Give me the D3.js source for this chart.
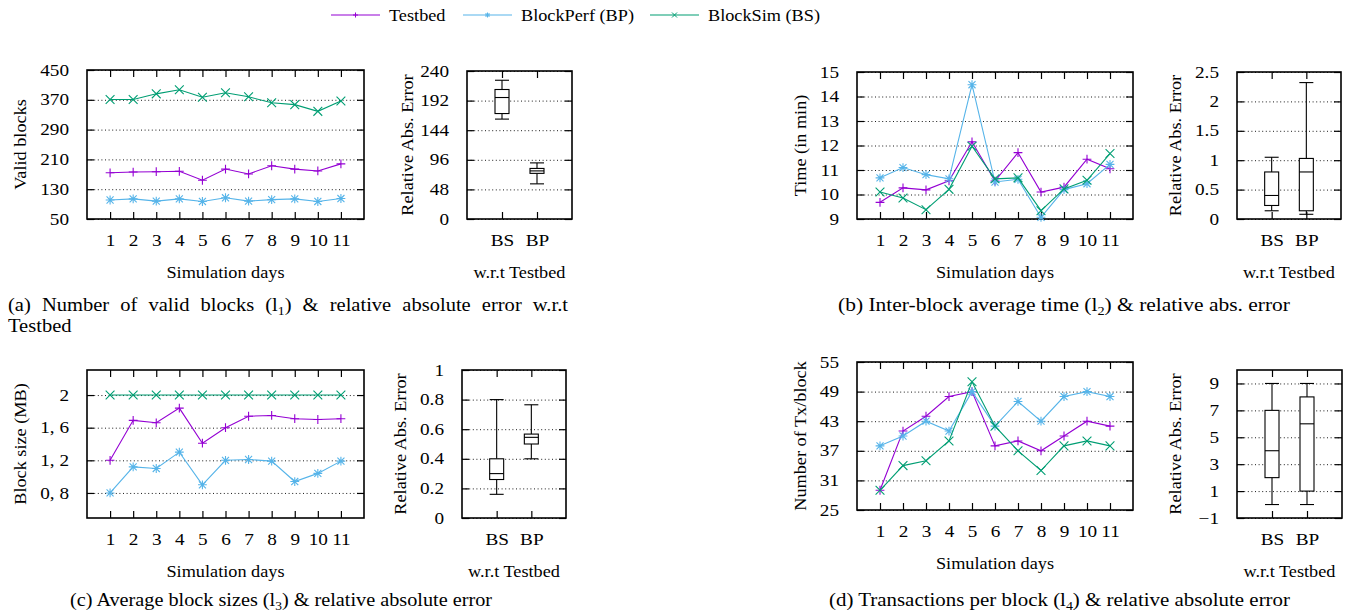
<!DOCTYPE html>
<html>
<head>
<meta charset="utf-8">
<script src="https://cdn.jsdelivr.net/npm/d3@7"></script>
<style>
body { margin: 0; background: #fff; }
text { font-family: "Liberation Serif", serif; font-size: 16px; fill: #000; }
.caption { font-size: 18px; }
</style>
</head>
<body>
<script>
const width = 1355, height = 612;

const days = [1, 2, 3, 4, 5, 6, 7, 8, 9, 10, 11];
const boxCats = ["BS", "BP"];
const seriesNames = ["Testbed", "BlockPerf (BP)", "BlockSim (BS)"];
const seriesColors = ["#9400d3", "#56b4e9", "#009e73"];
const seriesMarks = ["plus", "star", "cross"];

// (a) valid blocks
const blocksTestbed = [174, 176, 177, 178, 154, 184, 171, 193, 184, 179, 198];
const blocksPerf = [101, 104, 98, 104, 97, 107, 98, 102, 104, 97, 105];
const blocksSim = [371, 371, 386, 397, 377, 389, 378, 362, 357, 339, 367];
// box stats: [low whisker, q1, median, q3, high whisker]
const blocksErrBS = [162, 171, 197, 210, 225];
const blocksErrBP = [57, 74, 78, 82, 91];

// (b) inter-block time
const timeTestbed = [9.68, 10.27, 10.19, 10.56, 12.15, 10.55, 11.71, 10.10, 10.30, 11.44, 11.05];
const timePerf = [10.68, 11.10, 10.81, 10.64, 14.48, 10.51, 10.62, 9.07, 10.20, 10.44, 11.23];
const timeSim = [10.10, 9.86, 9.38, 10.21, 11.97, 10.64, 10.68, 9.34, 10.23, 10.58, 11.67];
const timeErrBS = [0.14, 0.23, 0.40, 0.80, 1.05];
const timeErrBP = [0.08, 0.14, 0.80, 1.03, 2.32];

// (c) block size
const sizeTestbed = [1.20, 1.69, 1.66, 1.84, 1.41, 1.60, 1.74, 1.75, 1.71, 1.70, 1.71];
const sizePerf = [0.80, 1.12, 1.10, 1.30, 0.90, 1.20, 1.21, 1.19, 0.94, 1.04, 1.19];
const sizeSim = [2, 2, 2, 2, 2, 2, 2, 2, 2, 2, 2];
const sizeErrBS = [0.16, 0.26, 0.30, 0.40, 0.80];
const sizeErrBP = [0.40, 0.50, 0.545, 0.567, 0.765];

// (d) transactions per block
const txTestbed = [29, 41, 44, 48, 49, 38, 39, 37, 40, 43, 42];
const txPerf = [38, 40, 43, 41, 49, 42, 47, 43, 48, 49, 48];
const txSim = [29, 34, 35, 39, 51, 42, 37, 33, 38, 39, 38];
const txErrBS = [0, 2, 4, 7, 9];
const txErrBP = [0, 1, 6, 8, 9];

// tick values
const blocksTicks = [50, 130, 210, 290, 370, 450];
const blocksErrTicks = [0, 48, 96, 144, 192, 240];
const timeTicks = [9, 10, 11, 12, 13, 14, 15];
const timeErrTicks = [0, 0.5, 1, 1.5, 2, 2.5];
const sizeTicks = [0.8, 1.2, 1.6, 2];
const sizeErrTicks = [0, 0.2, 0.4, 0.6, 0.8, 1];
const txTicks = [25, 31, 37, 43, 49, 55];
const txErrTicks = [-1, 1, 3, 5, 7, 9];

const svg = d3.select("body").append("svg")
    .attr("width", width)
    .attr("height", height);

const tickLen = 7;

function markPath(type, r) {
    if (type == "plus") return `M${-r},0H${r}M0,${-r}V${r}`;
    if (type == "cross") return `M${-r},${-r}L${r},${r}M${-r},${r}L${r},${-r}`;
    return `M${-r},0H${r}M0,${-r}V${r}M${-r*0.8},${-r*0.8}L${r*0.8},${r*0.8}M${-r*0.8},${r*0.8}L${r*0.8},${-r*0.8}`;
}

function cleanAxis(g) {
    g.attr("font-size", null).attr("font-family", null);
    g.select(".domain").remove();
}

// grid, inward ticks, border, tick labels
function drawFrame(g, x, y, xTicks, yTicks, xFmt, yFmt) {
    const [l, r] = x.range(), [b, t] = y.range();
    g.append("g")
        .attr("transform", `translate(${l},0)`)
        .call(d3.axisLeft(y).tickValues(yTicks).tickSize(-(r - l)).tickFormat(""))
        .call(cleanAxis)
        .selectAll("line")
        .attr("stroke", "#000").attr("stroke-width", 0.9).attr("stroke-dasharray", "1,2.6");

    g.append("g").attr("transform", `translate(${l},0)`)
        .call(d3.axisLeft(y).tickValues(yTicks).tickSize(-tickLen).tickFormat(""))
        .call(cleanAxis);
    g.append("g").attr("transform", `translate(${r},0)`)
        .call(d3.axisRight(y).tickValues(yTicks).tickSize(-tickLen).tickFormat(""))
        .call(cleanAxis);
    g.append("g").attr("transform", `translate(0,${b})`)
        .call(d3.axisBottom(x).tickValues(xTicks).tickSize(-tickLen).tickFormat(""))
        .call(cleanAxis);
    g.append("g").attr("transform", `translate(0,${t})`)
        .call(d3.axisTop(x).tickValues(xTicks).tickSize(-tickLen).tickFormat(""))
        .call(cleanAxis);
    g.selectAll("line").filter(function() { return !this.getAttribute("stroke-dasharray"); })
        .attr("stroke", "#000").attr("stroke-width", 1.2);

    // labels
    g.append("g").attr("class", "ylab").attr("transform", `translate(${l - 18},0)`)
        .call(d3.axisLeft(y).tickValues(yTicks).tickSize(0).tickPadding(0).tickFormat(yFmt))
        .call(cleanAxis)
        .selectAll("text").attr("class", "num");
    g.append("g").attr("transform", `translate(0,${b + 15})`)
        .call(d3.axisBottom(x).tickValues(xTicks).tickSize(0).tickPadding(0).tickFormat(xFmt))
        .call(cleanAxis)
        .selectAll("text").attr("class", "num").attr("dy", "0.72em");

    g.append("rect")
        .attr("x", l).attr("y", t).attr("width", r - l).attr("height", b - t)
        .attr("fill", "none").attr("stroke", "#000").attr("stroke-width", 1.6);
}

function linePanel(o) {
    const g = svg.append("g");
    const x = d3.scaleLinear().domain([0, 12]).range([o.left, o.right]);
    const y = d3.scaleLinear().domain(o.yDomain).range([o.bottom, o.top]);
    drawFrame(g, x, y, days, o.yTicks, d => d, o.yFmt || (d => d));

    const line = d3.line().x((d, i) => x(days[i])).y(d => y(d));
    o.series.forEach(function(vals, k) {
        g.append("path")
            .datum(vals)
            .attr("d", line)
            .attr("fill", "none")
            .attr("stroke", seriesColors[k])
            .attr("stroke-width", 1.1);
        g.selectAll(".m" + k)
            .data(vals)
            .enter().append("path")
            .attr("transform", (d, i) => `translate(${x(days[i])},${y(d)})`)
            .attr("d", markPath(seriesMarks[k], 4.4))
            .attr("fill", "none")
            .attr("stroke", seriesColors[k])
            .attr("stroke-width", 1.1);
    });

    g.append("text")
        .attr("x", (o.left + o.right) / 2).attr("y", o.bottom + 53)
        .attr("dy", "0.35em").attr("text-anchor", "middle")
        .text("Simulation days");
    g.append("text")
        .attr("transform", `translate(${o.titleX},${(o.top + o.bottom) / 2}) rotate(-90)`)
        .attr("dy", "0.35em").attr("text-anchor", "middle")
        .text(o.yTitle);
}

function boxPanel(o) {
    const g = svg.append("g");
    const x = d3.scaleLinear().domain([0, 3]).range([o.left, o.right]);
    const y = d3.scaleLinear().domain(o.yDomain).range([o.bottom, o.top]);
    drawFrame(g, x, y, [1, 2], o.yTicks, d => boxCats[d - 1], o.yFmt || (d => d));

    const hw = 7;
    o.stats.forEach(function(s, i) {
        const cx = x(i + 1);
        const b = g.append("g").attr("stroke", "#000").attr("stroke-width", 1.1).attr("fill", "none");
        b.append("line").attr("x1", cx).attr("x2", cx).attr("y1", y(s[4])).attr("y2", y(s[3]));
        b.append("line").attr("x1", cx).attr("x2", cx).attr("y1", y(s[1])).attr("y2", y(s[0]));
        b.append("line").attr("x1", cx - hw).attr("x2", cx + hw).attr("y1", y(s[4])).attr("y2", y(s[4]));
        b.append("line").attr("x1", cx - hw).attr("x2", cx + hw).attr("y1", y(s[0])).attr("y2", y(s[0]));
        b.append("rect").attr("x", cx - hw).attr("width", 2 * hw)
            .attr("y", y(s[3])).attr("height", y(s[1]) - y(s[3]))
            .attr("fill", "#fff");
        b.append("line").attr("x1", cx - hw).attr("x2", cx + hw).attr("y1", y(s[2])).attr("y2", y(s[2]));
    });

    g.append("text")
        .attr("x", (o.left + o.right) / 2).attr("y", o.bottom + 53)
        .attr("dy", "0.35em").attr("text-anchor", "middle")
        .text("w.r.t Testbed");
    g.append("text")
        .attr("transform", `translate(${o.titleX},${(o.top + o.bottom) / 2}) rotate(-90)`)
        .attr("dy", "0.35em").attr("text-anchor", "middle")
        .text("Relative Abs. Error");
}

const commaFmt = d => String(d).replace(".", ", ");
const minusFmt = d => String(d).replace("-", "\u2212");

linePanel({left: 87, right: 364, top: 70, bottom: 219, yDomain: [50, 450], yTicks: blocksTicks,
    series: [blocksTestbed, blocksPerf, blocksSim], yTitle: "Valid blocks", titleX: 20});
boxPanel({left: 467, right: 572, top: 71, bottom: 219, yDomain: [0, 240], yTicks: blocksErrTicks,
    stats: [blocksErrBS, blocksErrBP], titleX: 407});

linePanel({left: 857, right: 1133, top: 72, bottom: 219, yDomain: [9, 15], yTicks: timeTicks,
    series: [timeTestbed, timePerf, timeSim], yTitle: "Time (in min)", titleX: 800});
boxPanel({left: 1237, right: 1341, top: 72, bottom: 219, yDomain: [0, 2.5], yTicks: timeErrTicks,
    stats: [timeErrBS, timeErrBP], titleX: 1175});

linePanel({left: 87, right: 364, top: 370, bottom: 518, yDomain: [0.493, 2.307], yTicks: sizeTicks,
    yFmt: commaFmt, series: [sizeTestbed, sizePerf, sizeSim], yTitle: "Block size (MB)", titleX: 20});
boxPanel({left: 462, right: 566, top: 370, bottom: 518, yDomain: [0, 1], yTicks: sizeErrTicks,
    stats: [sizeErrBS, sizeErrBP], titleX: 400});

linePanel({left: 857, right: 1133, top: 362, bottom: 510, yDomain: [25, 55], yTicks: txTicks,
    series: [txTestbed, txPerf, txSim], yTitle: "Number of Tx/block", titleX: 800});
boxPanel({left: 1237, right: 1342, top: 370, bottom: 518, yDomain: [-1, 10], yTicks: txErrTicks,
    yFmt: minusFmt, stats: [txErrBS, txErrBP], titleX: 1175});

// legend
const legendX = [331, 463, 650];
seriesNames.forEach(function(name, k) {
    const lg = svg.append("g").attr("transform", `translate(${legendX[k]},15)`);
    lg.append("line").attr("x1", 0).attr("x2", 49)
        .attr("stroke", seriesColors[k]).attr("stroke-width", 1.1);
    lg.append("path").attr("transform", "translate(24.5,0)")
        .attr("d", markPath(seriesMarks[k], 2.5))
        .attr("fill", "none").attr("stroke", seriesColors[k]).attr("stroke-width", 1);
    lg.append("text").attr("x", 58).attr("dy", "0.35em").text(name);
});

// widen the Times-like glyphs to the wider look of the original font
svg.selectAll("text")
    .each(function() {
        const k = this.classList.contains("num") ? 1.2 : 1.14;
        this.setAttribute("textLength", this.getComputedTextLength() * k);
        this.setAttribute("lengthAdjust", "spacingAndGlyphs");
    });

// captions
function caption(x, y, w, pre, sub, post) {
    const t = svg.append("text").attr("class", "caption").attr("x", x).attr("y", y);
    t.append("tspan").text(pre);
    t.append("tspan").attr("dy", 4).style("font-size", "12px").text(sub);
    t.append("tspan").attr("dy", -4).text(post);
    t.attr("textLength", w).attr("lengthAdjust", "spacingAndGlyphs");
    return t;
}

// justified caption line: words spread from x0 to x1
function justified(x0, x1, y, words) {
    const items = words.map(function(w) {
        const t = svg.append("text").attr("class", "caption").attr("y", y);
        if (Array.isArray(w)) {
            t.append("tspan").text(w[0]);
            t.append("tspan").attr("dy", 4).style("font-size", "12px").text(w[1]);
            t.append("tspan").attr("dy", -4).text(w[2]);
        } else {
            t.text(w);
        }
        const len = t.node().getComputedTextLength() * 1.14;
        t.attr("textLength", len).attr("lengthAdjust", "spacingAndGlyphs");
        return {t, len};
    });
    const total = d3.sum(items, d => d.len);
    const gap = (x1 - x0 - total) / (items.length - 1);
    let pos = x0;
    items.forEach(function(d) {
        d.t.attr("x", pos);
        pos += d.len + gap;
    });
}

justified(8, 568, 311, ["(a)", "Number", "of", "valid", "blocks", ["(l", "1", ")"], "&",
    "relative", "absolute", "error", "w.r.t"]);
const tb = svg.append("text").attr("class", "caption").attr("x", 8).attr("y", 332).text("Testbed");
tb.attr("textLength", tb.node().getComputedTextLength() * 1.14).attr("lengthAdjust", "spacingAndGlyphs");
caption(838, 311, 452, "(b)  Inter-block average time (l", "2", ") & relative abs. error");
caption(70, 606, 422, "(c)  Average block sizes (l", "3", ") & relative absolute error");
caption(829, 606, 461, "(d)  Transactions per block (l", "4", ") & relative absolute error");
</script>
</body>
</html>
